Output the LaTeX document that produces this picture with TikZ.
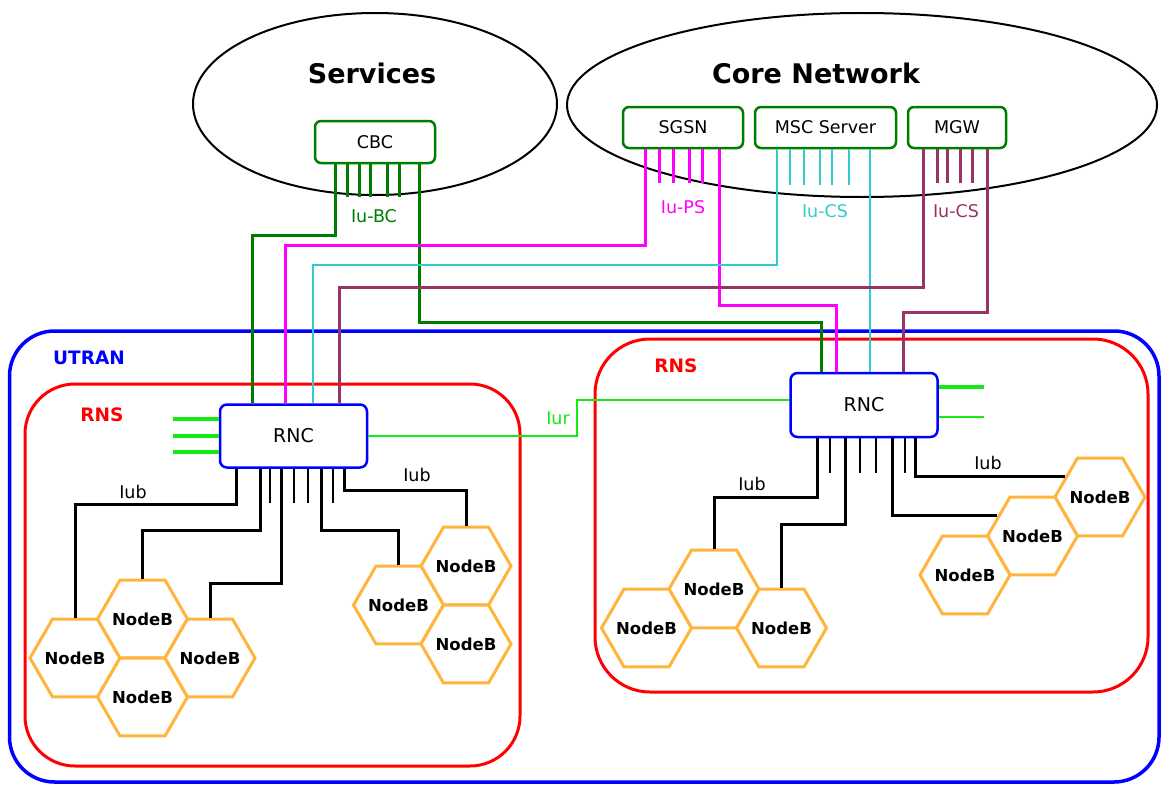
\documentclass[tikz,border=0pt]{standalone}
\usepackage{fontspec}
\setmainfont{DejaVu Sans}
\usetikzlibrary{shapes.geometric}
\definecolor{cbcgreen}{RGB}{0,125,0}
\definecolor{psmag}{RGB}{255,0,255}
\definecolor{cscyan}{RGB}{51,204,204}
\definecolor{csmaroon}{RGB}{153,51,102}
\definecolor{lime}{RGB}{20,235,20}
\definecolor{ublue}{RGB}{0,0,255}
\definecolor{rnsred}{RGB}{255,0,0}
\definecolor{norange}{RGB}{255,180,60}
\begin{document}
\begin{tikzpicture}[x=1pt,y=-1pt,
  cloudshape/.style={ellipse, draw=black, line width=2pt, inner sep=0pt},
  title/.style={inner sep=0pt, font=\bfseries\fontsize{27}{27}\selectfont},
  srv/.style={draw=cbcgreen, line width=2.5pt, rounded corners=6pt, fill=white, minimum height=41pt, inner sep=0pt, font=\fontsize{17.5}{17.5}\selectfont},
  rncbox/.style={draw=ublue, line width=2.5pt, rounded corners=7pt, fill=white, minimum width=147pt, minimum height=63pt, inner sep=0pt, font=\fontsize{19}{19}\selectfont},
  nodeb/.style={regular polygon, regular polygon sides=6, minimum size=90pt, draw=norange, line width=3pt, fill=white, inner sep=0pt, font=\bfseries\fontsize{16.5}{16.5}\selectfont},
  lbl/.style={inner sep=0pt, font=\fontsize{17.5}{17.5}\selectfont},
  grp/.style={inner sep=0pt, font=\bfseries\fontsize{18.5}{18.5}\selectfont},
  iub/.style={line width=3pt, black},
  stub/.style={line width=2.5pt, black},
  cbcl/.style={line width=3pt, cbcgreen},
  psl/.style={line width=3pt, psmag},
  csl/.style={line width=2.5pt, cscyan},
  mgl/.style={line width=3pt, csmaroon},
  iurl/.style={line width=2.5pt, lime},
  ext/.style={line width=3.5pt, lime}
]
\useasboundingbox (0,0) rectangle (1161,784);
\fill[white] (0,0) rectangle (1161,784);

% clouds
\node[cloudshape, minimum width=364pt, minimum height=182pt] (services) at (375,104) {};
\node[cloudshape, minimum width=590pt, minimum height=184pt] (core) at (862,105) {};
\node[title] (servicestitle) at (372,73) {Services};
\node[title] (coretitle) at (816,73) {Core Network};

% RNC boxes (placed first for anchors)
\node[rncbox] (rnc1) at (293.5,436) {RNC};
\node[rncbox, minimum height=64pt] (rnc2) at (864,405) {RNC};

% core boxes
\node[srv, minimum width=120pt, minimum height=42pt] (cbc) at (375,142) {CBC};
\node[srv, minimum width=120pt] (sgsn) at (683,127.5) {SGSN};
\node[srv, minimum width=141pt] (msc) at (825.5,127.5) {MSC Server};
\node[srv, minimum width=98pt] (mgw) at (957,127.5) {MGW};

% NodeB positions
\coordinate (pA) at (75,658);
\coordinate (pB) at (142.5,619);
\coordinate (pC) at (142.5,697);
\coordinate (pD) at (210,658);
\coordinate (pE) at (466,566);
\coordinate (pF) at (398.5,605);
\coordinate (pG) at (466,644);
\coordinate (pH) at (714,589);
\coordinate (pI) at (646.5,628);
\coordinate (pJ) at (781.5,628);
\coordinate (pK) at (1100,497);
\coordinate (pL) at (1032.5,536);
\coordinate (pM) at (965,575);

% containers
\draw[ublue, line width=3.5pt, rounded corners=45pt] (9.5,331) rectangle (1159,782);
\draw[rnsred, line width=3pt, rounded corners=50pt] (25,384) rectangle (520,766);
\draw[rnsred, line width=3pt, rounded corners=55pt] (595,339) rectangle (1148,692);
\node[grp, text=ublue] (utranlbl) at (89,358) {UTRAN};
\node[grp, text=rnsred] (rns1lbl) at (102,415) {RNS};
\node[grp, text=rnsred] (rns2lbl) at (676,366) {RNS};

% Iu-BC
\draw[cbcl] (cbc.south -| 335,0) -- (335,235) -| (rnc1.north -| 252,0);
\draw[cbcl] (cbc.south -| 419,0) -- (419,322) -| (rnc2.north -| 821,0);
\foreach \x in {347,359,370,387,399} \draw[cbcl] (cbc.south -| \x,0) -- (\x,197);
\node[lbl, text=cbcgreen] (iubc) at (374,216) {Iu-BC};

% Iu-PS
\draw[psl] (sgsn.south -| 645,0) -- (645,245) -| (rnc1.north -| 285,0);
\draw[psl] (sgsn.south -| 719,0) -- (719,305) -| (rnc2.north -| 836,0);
\foreach \x in {659,673,689,702} \draw[psl] (sgsn.south -| \x,0) -- (\x,183);
\node[lbl, text=psmag] (iups) at (683,207) {Iu-PS};

% Iu-CS (MSC)
\draw[csl] (msc.south -| 777,0) -- (777,265) -| (rnc1.north -| 313,0);
\draw[csl] (msc.south -| 870,0) -- (rnc2.north -| 870,0);
\foreach \x in {790,804,820,832,849} \draw[csl] (msc.south -| \x,0) -- (\x,185);
\node[lbl, text=cscyan] (iucs1) at (825,211) {Iu-CS};

% Iu-CS (MGW)
\draw[mgl] (mgw.south -| 923,0) -- (923,287) -| (rnc1.north -| 339,0);
\draw[mgl] (mgw.south -| 987,0) -- (987,312) -| (rnc2.north -| 903,0);
\foreach \x in {937,947,960,972} \draw[mgl] (mgw.south -| \x,0) -- (\x,183);
\node[lbl, text=csmaroon] (iucs2) at (956,211) {Iu-CS};

% Iur and external links
\draw[iurl] (rnc1.east) -| (577,400) -- (rnc2.west |- 0,400);
\node[lbl, text=lime] (iurlbl) at (558,418) {Iur};
\foreach \y in {419,436,452} \draw[ext] (rnc1.west |- 0,\y) -- (173,\y);
\draw[ext] (rnc2.east |- 0,387) -- (984,387);
\draw[iurl] (rnc2.east |- 0,417) -- (984,417);

% NodeBs
\foreach \n in {A,B,C,D,E,F,G,H,I,J,K,L,M}
  \node[nodeb] (nb\n) at (p\n) {\makebox[0pt]{NodeB}};

% Iub left RNS
\draw[iub] (rnc1.south -| 236,0) -- (236,504) -| (nbA.north);
\draw[iub] (rnc1.south -| 260,0) -- (260,530) -| (nbB.north);
\draw[iub] (rnc1.south -| 281,0) -- (281,583) -| (nbD.north);
\draw[iub] (rnc1.south -| 321,0) -- (321,530) -| (nbF.north);
\draw[iub] (rnc1.south -| 344,0) -- (344,490) -| (nbE.north);
\foreach \x in {270,294,308,333} \draw[stub] (rnc1.south -| \x,0) -- (\x,503);
\node[lbl] (iub1) at (133,492) {Iub};
\node[lbl] (iub2) at (417,475) {Iub};

% Iub right RNS
\draw[iub] (rnc2.south -| 817,0) -- (817,497) -| (nbH.north);
\draw[iub] (rnc2.south -| 845,0) -- (845,524) -| (nbJ.north);
\draw[iub] (rnc2.south -| 892,0) |- (nbL.150);
\draw[iub] (rnc2.south -| 915,0) |- (nbK.150);
\foreach \x in {830,860,876,905} \draw[stub] (rnc2.south -| \x,0) -- (\x,473);
\node[lbl] (iub3) at (752,484) {Iub};
\node[lbl] (iub4) at (988,463) {Iub};
\end{tikzpicture}
\end{document}
